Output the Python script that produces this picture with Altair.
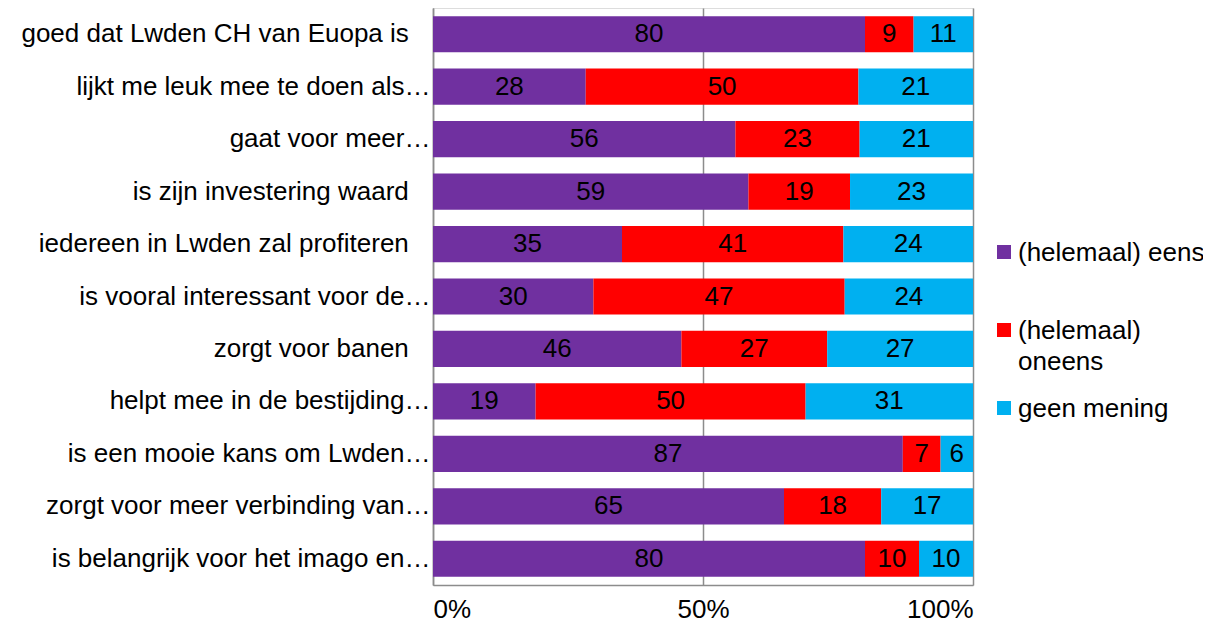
import altair as alt
import pandas as pd

categories = [
    "goed dat Lwden CH van Euopa is",
    "lijkt me leuk mee te doen als…",
    "gaat voor meer…",
    "is zijn investering waard",
    "iedereen in Lwden zal profiteren",
    "is vooral interessant voor de…",
    "zorgt voor banen",
    "helpt mee in de bestijding…",
    "is een mooie kans om Lwden…",
    "zorgt voor meer verbinding van…",
    "is belangrijk voor het imago en…",
]
series = ["(helemaal) eens", "(helemaal) oneens", "geen mening"]
series_labels = ["(helemaal) eens", "(helemaal)\noneens", "geen mening"]
eens = [80, 28, 56, 59, 35, 30, 46, 19, 87, 65, 80]
oneens = [9, 50, 23, 19, 41, 47, 27, 50, 7, 18, 10]
geen = [11, 21, 21, 23, 24, 24, 27, 31, 6, 17, 10]
colors = ["#7030A0", "#FF0000", "#00B0F0"]

rows = []
for i, cat in enumerate(categories):
    vals = [eens[i], oneens[i], geen[i]]
    total = sum(vals)
    start = 0.0
    for s, v in zip(series, vals):
        frac = v / total
        rows.append({"cat": cat, "series": s, "value": v,
                     "start": start, "end": start + frac, "mid": start + frac / 2})
        start += frac
df = pd.DataFrame(rows)
leg = pd.DataFrame({"series": series, "label": series_labels})

FONT = "Liberation Sans"
FS = 26

color = alt.Color("series:N", scale=alt.Scale(domain=series, range=colors), legend=None)
yenc = alt.Y("cat:N", sort=categories, title=None,
             scale=alt.Scale(paddingInner=0.31, paddingOuter=0.155),
             axis=alt.Axis(ticks=False, labelFontSize=FS, labelFont=FONT, labelColor="black",
                           labelLimit=500, labelPadding=3, domain=True, domainColor="#8c8c8c",
                           domainWidth=1.5,
                           labelExpr="test(/…$/, datum.label) ? datum.label : datum.label + '\u00a0\u00a0\u00a0\u200b'"))
xenc = alt.X("start:Q", title=None,
             scale=alt.Scale(domain=[0, 1], nice=False, zero=True),
             axis=alt.Axis(values=[0, 0.5, 1], format=".0%", ticks=False, labelFontSize=FS,
                           labelFont=FONT, labelColor="black", labelPadding=11,
                           grid=True, gridColor="#8c8c8c", gridWidth=1.5,
                           domainColor="#8c8c8c", domainWidth=1.5))

bars = alt.Chart(df).mark_bar().encode(y=yenc, x=xenc, x2="end:Q", color=color)
texts = alt.Chart(df).mark_text(fontSize=FS, font=FONT, color="black", baseline="middle").encode(
    y=alt.Y("cat:N", sort=categories, axis=None),
    x=alt.X("mid:Q"),
    text=alt.Text("value:Q"),
)

ly = alt.Y("series:N", scale=alt.Scale(type="point", domain=series, range=[244, 400], padding=0), axis=None)
leg_sq = alt.Chart(leg).mark_square(size=196, opacity=1).encode(
    y=ly, x=alt.value(571), color=color)
leg_tx = alt.Chart(leg).mark_text(fontSize=FS, font=FONT, color="black", align="left",
                                  baseline="alphabetic", dy=9, lineBreak="\n", lineHeight=31).encode(
    y=ly, x=alt.value(585), text="label:N")

chart = alt.layer(bars, texts, leg_sq, leg_tx).resolve_scale(y="independent").properties(
    width=540, height=577,
    autosize=alt.AutoSizeParams(type="none"),
    padding={"left": 425, "top": 0, "right": 230, "bottom": 37},
).configure_view(stroke=None).configure(background="white")

chart.save("out.html", embed_options={"renderer": "svg", "actions": False})
